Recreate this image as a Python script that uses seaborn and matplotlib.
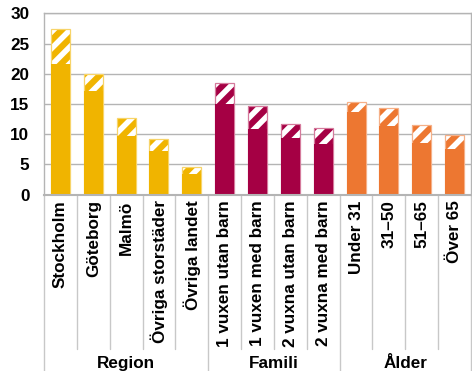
import matplotlib
matplotlib.use("Agg")
import matplotlib.pyplot as plt
import seaborn as sns
import pandas as pd

categories = ["Stockholm", "Göteborg", "Malmö", "Övriga storstäder", "Övriga landet",
              "1 vuxen utan barn", "1 vuxen med barn", "2 vuxna utan barn", "2 vuxna med barn",
              "Under 31", "31–50", "51–65", "Över 65"]
groups = ["Region"] * 5 + ["Famili"] * 4 + ["Ålder"] * 4
solid_values = [21.6, 17.1, 9.7, 7.2, 3.5, 15.0, 10.9, 9.4, 8.4, 13.6, 11.3, 8.5, 7.5]
total_values = [27.4, 20.0, 12.7, 9.2, 4.5, 18.4, 14.6, 11.7, 11.1, 15.4, 14.4, 11.5, 9.9]
group_names = ["Region", "Famili", "Ålder"]
group_colors = {"Region": "#F0B400", "Famili": "#A50044", "Ålder": "#ED7731"}
outline_colors = {"Region": "#F7D46A", "Famili": "#D57A9C", "Ålder": "#F5B088"}
y_ticks = [0, 5, 10, 15, 20, 25, 30]

df = pd.DataFrame({"cat": categories, "grp": groups,
                   "solid": solid_values, "total": total_values})

sns.set_theme(style="white")
plt.rcParams["font.family"] = ["Liberation Sans", "DejaVu Sans"]
plt.rcParams["hatch.linewidth"] = 4.0

fig = plt.figure(figsize=(4.72, 3.71), dpi=100)
ax = fig.add_axes([44 / 472, 1 - 194.7 / 371, 427 / 472, 181.4 / 371])

W = 0.58
# hatched totals
sns.barplot(data=df, x="cat", y="total", hue="grp", palette=group_colors, dodge=False,
            width=W, order=categories, hue_order=group_names, legend=False, ax=ax,
            linewidth=0, saturation=1)
for p in ax.patches:
    p.set_hatch("//")
    p.set_edgecolor("white")
    p.set_linewidth(0)
# outlines of totals
sns.barplot(data=df, x="cat", y="total", hue="grp", palette=outline_colors, dodge=False,
            width=W, order=categories, hue_order=group_names, legend=False, ax=ax,
            fill=False, linewidth=0.9, saturation=1)
# solid part
sns.barplot(data=df, x="cat", y="solid", hue="grp", palette=group_colors, dodge=False,
            width=W, order=categories, hue_order=group_names, legend=False, ax=ax,
            linewidth=0, saturation=1)

ax.set_xlim(-0.5, len(categories) - 0.5)
ax.set_ylim(0, 30)
ax.set_yticks(y_ticks)
ax.set_yticklabels([str(t) for t in y_ticks], fontsize=12.3, fontweight="bold", color="black")
ax.tick_params(axis="y", length=0, pad=10.5)
ax.set_xticks(range(len(categories)))
ax.set_xticklabels(categories, rotation=90, fontsize=12.3, fontweight="bold", color="black",
                   va="top", ha="center")
ax.tick_params(axis="x", length=0, pad=4)
ax.set_xlabel("")
ax.set_ylabel("")
ax.yaxis.grid(True, color="#b4b4b4", linewidth=1.0)
ax.set_axisbelow(True)
for s in ax.spines.values():
    s.set_visible(True)
    s.set_color("#b4b4b4")
    s.set_linewidth(1.0)
ax.spines["bottom"].set_linewidth(1.5)

trans = ax.get_xaxis_transform()
bounds = [0, 5, 9, 13]
for i in range(len(categories) + 1):
    x = i - 0.5
    y_end = -1.05 if i in bounds else -0.85
    ax.plot([x, x], [0, y_end], transform=trans, color="#c8c8c8", linewidth=1.0, clip_on=False)

for gi, g in enumerate(group_names):
    c = (bounds[gi] + bounds[gi + 1] - 1) / 2
    ax.text(c, -0.955, g, transform=trans, ha="center", va="baseline",
            fontsize=12.3, fontweight="bold", color="black")

fig.savefig("out.png", dpi=100)
